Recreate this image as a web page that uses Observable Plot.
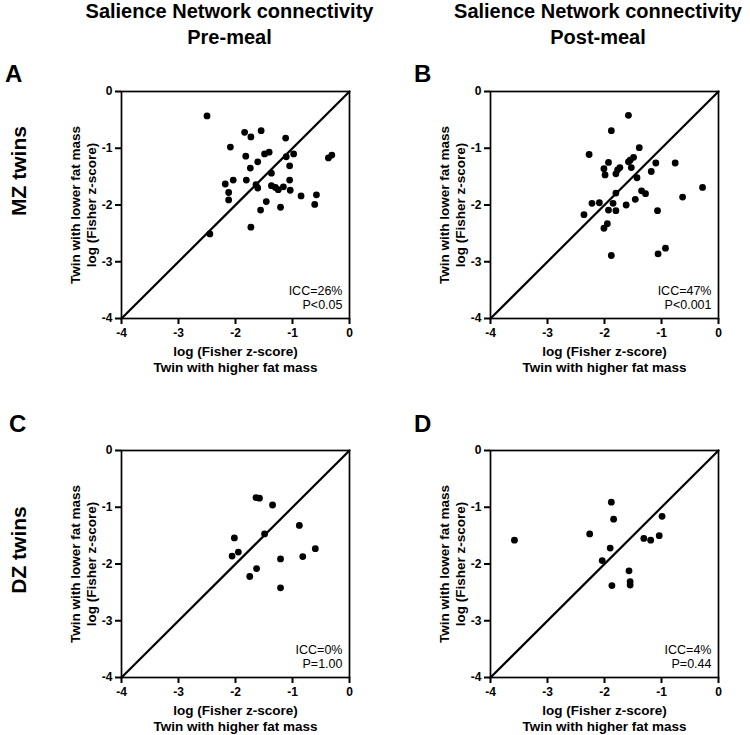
<!DOCTYPE html>
<html><head><meta charset="utf-8">
<script src="https://cdn.jsdelivr.net/npm/d3@7"></script>
<script src="https://cdn.jsdelivr.net/npm/@observablehq/plot@0.6"></script>
<style>
body{margin:0;background:#fff;}
#fig{position:relative;width:750px;height:735px;font-family:"Liberation Sans",Arial,Helvetica,sans-serif;color:#000;overflow:hidden;background:#fff;}
.t{position:absolute;font-weight:bold;white-space:nowrap;}
.title{font-size:20px;line-height:22px;height:22px;text-align:center;width:340px;}
.letter{font-size:24px;line-height:24px;}
.row{font-size:21px;line-height:24px;width:140px;height:24px;text-align:center;transform:rotate(-90deg);}
.panel{position:absolute;}
</style></head><body><div id="fig"></div>
<script>
// ---- data ----
const tickValues = [-4, -3, -2, -1, 0];
const identityLine = [-4, 0];
const columnTitles = [["Salience Network connectivity", "Pre-meal"], ["Salience Network connectivity", "Post-meal"]];
const rowLabels = ["MZ twins", "DZ twins"];
const panelLetters = ["A", "B", "C", "D"];
const xLabelLines = ["log (Fisher z-score)", "Twin with higher fat mass"];
const yLabelLines = ["Twin with lower fat mass", "log (Fisher z-score)"];
const statsA = ["ICC=26%", "P<0.05"];
const statsB = ["ICC=47%", "P<0.001"];
const statsC = ["ICC=0%", "P=1.00"];
const statsD = ["ICC=4%", "P=0.44"];

const aX = [-2.50,-1.84,-1.73,-1.55,-1.12,-2.09,-1.82,-1.49,-1.41,-1.11,-0.98,-1.61,-1.74,-1.05,-1.37,-0.37,-0.31,-2.18,-2.04,-1.81,-1.64,-1.61,-1.37,-1.30,-1.25,-1.16,-1.05,-1.04,-2.12,-2.12,-0.85,-0.58,-0.61,-1.46,-1.56,-1.21,-1.73,-2.45];
const aY = [-0.43,-0.72,-0.80,-0.69,-0.82,-0.98,-1.14,-1.10,-1.07,-1.15,-1.10,-1.24,-1.35,-1.31,-1.44,-1.17,-1.12,-1.63,-1.56,-1.56,-1.64,-1.70,-1.66,-1.69,-1.73,-1.68,-1.56,-1.74,-1.78,-1.91,-1.84,-1.82,-1.99,-1.94,-2.09,-2.04,-2.39,-2.51];

const bX = [-1.58,-1.88,-2.27,-1.39,-1.93,-2.01,-1.99,-1.80,-1.77,-1.73,-1.58,-1.55,-1.49,-1.53,-1.43,-1.10,-0.76,-1.18,-1.35,-1.28,-0.63,-1.80,-2.36,-2.22,-2.09,-1.85,-1.93,-1.80,-1.46,-1.62,-1.07,-1.95,-2.01,-1.88,-1.06,-0.93,-0.28];
const bY = [-0.42,-0.69,-1.11,-0.99,-1.25,-1.36,-1.47,-1.45,-1.38,-1.34,-1.24,-1.21,-1.16,-1.34,-1.52,-1.26,-1.26,-1.41,-1.75,-1.80,-1.86,-1.79,-2.17,-1.97,-1.96,-1.97,-2.09,-2.10,-1.90,-2.00,-2.10,-2.33,-2.41,-2.89,-2.86,-2.76,-1.69];

const cX = [-1.64,-1.58,-1.35,-0.88,-2.02,-1.49,-1.95,-2.06,-0.60,-0.82,-1.21,-1.63,-1.75,-1.21];
const cY = [-0.83,-0.84,-0.96,-1.32,-1.54,-1.47,-1.79,-1.86,-1.73,-1.87,-1.91,-2.08,-2.22,-2.42];

const dX = [-3.58,-1.88,-1.84,-2.26,-1.90,-2.04,-1.57,-1.55,-1.55,-1.87,-1.31,-1.19,-1.04,-0.99];
const dY = [-1.58,-0.91,-1.21,-1.47,-1.72,-1.94,-2.12,-2.31,-2.37,-2.38,-1.55,-1.58,-1.50,-1.16];

// ---- drawing ----
const FONT = '"Liberation Sans", Arial, Helvetica, sans-serif';
const fig = document.getElementById("fig");

function panel(xs, ys, stats) {
  const pts = xs.map((x, i) => ({x, y: ys[i]}));
  const txt = d => d;
  return Plot.plot({
    width: 309, height: 320,
    marginLeft: 66, marginRight: 15, marginTop: 31, marginBottom: 62,
    x: {domain: [-4, 0]},
    y: {domain: [-4, 0]},
    style: {fontFamily: FONT, fontSize: "12px", fontWeight: "bold", color: "#000", background: "transparent", overflow: "visible"},
    marks: [
      Plot.line(identityLine, {x: txt, y: txt, stroke: "#000", strokeWidth: 2.2}),
      Plot.frame({stroke: "#000", strokeWidth: 1.7}),
      Plot.axisX(tickValues, {tickSize: 6, tickPadding: 4, strokeWidth: 2, tickFormat: d => String(d), label: null}),
      Plot.axisY(tickValues, {tickSize: 6, tickPadding: 3, strokeWidth: 2, tickFormat: d => String(d), label: null}),
      Plot.dot(pts, {x: "x", y: "y", r: 3.4, fill: "#000", stroke: "none"}),
      Plot.text([xLabelLines[0]], {text: txt, frameAnchor: "bottom", dy: 37, textAnchor: "middle", lineAnchor: "bottom", fontSize: 13.5, fontWeight: "bold"}),
      Plot.text([xLabelLines[1]], {text: txt, frameAnchor: "bottom", dy: 53, textAnchor: "middle", lineAnchor: "bottom", fontSize: 13.5, fontWeight: "bold"}),
      Plot.text([yLabelLines[0]], {text: txt, frameAnchor: "left", dx: -46, rotate: -90, textAnchor: "middle", lineAnchor: "middle", fontSize: 13.5, fontWeight: "bold"}),
      Plot.text([yLabelLines[1]], {text: txt, frameAnchor: "left", dx: -29.5, rotate: -90, textAnchor: "middle", lineAnchor: "middle", fontSize: 13.5, fontWeight: "bold"}),
      Plot.text([stats[0]], {text: txt, frameAnchor: "bottom-right", dx: -7, dy: -24, textAnchor: "end", lineAnchor: "bottom", fontSize: 12.5, fontWeight: "normal"}),
      Plot.text([stats[1]], {text: txt, frameAnchor: "bottom-right", dx: -7, dy: -10, textAnchor: "end", lineAnchor: "bottom", fontSize: 12.5, fontWeight: "normal"})
    ]
  });
}

function place(el, left, top) {
  el.classList.add("panel");
  el.style.left = left + "px";
  el.style.top = top + "px";
  fig.appendChild(el);
}

place(panel(aX, aY, statsA), 55, 60);
place(panel(bX, bY, statsB), 424, 60);
place(panel(cX, cY, statsC), 55, 419);
place(panel(dX, dY, statsD), 424, 419);

function addText(cls, text, left, top) {
  const d = document.createElement("div");
  d.className = "t " + cls;
  d.textContent = text;
  d.style.left = left + "px";
  d.style.top = top + "px";
  fig.appendChild(d);
  return d;
}

addText("title", columnTitles[0][0], 229.5 - 170, 0);
addText("title", columnTitles[0][1], 229.5 - 170, 26);
addText("title", columnTitles[1][0], 598 - 170, 0);
addText("title", columnTitles[1][1], 598 - 170, 26);

addText("letter", panelLetters[0], 5, 61.7);
addText("letter", panelLetters[1], 414, 61.7);
addText("letter", panelLetters[2], 9, 411.7);
addText("letter", panelLetters[3], 414, 411.7);

addText("row", rowLabels[0], 18.5 - 70, 171 - 12);
addText("row", rowLabels[1], 18.5 - 70, 549.5 - 12);
</script>
</body></html>
